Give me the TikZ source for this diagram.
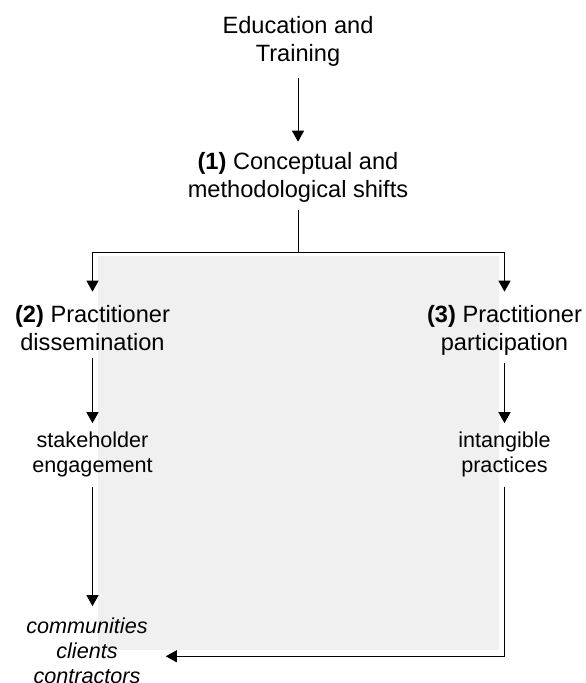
\documentclass[tikz,border=0pt]{standalone}
\usepackage{fontspec}
\setmainfont{Liberation Sans}
\usetikzlibrary{arrows.meta}
\begin{document}
\begin{tikzpicture}[x=1pt,y=-1pt,
  stage/.style={align=center,inner sep=0pt,font=\fontsize{23.6}{28}\selectfont},
  effect/.style={align=center,inner sep=0pt,font=\fontsize{21.6}{25}\selectfont},
  actors/.style={align=center,inner sep=0pt,font=\fontsize{21.6}{25}\selectfont\itshape},
  flow/.style={-{Triangle[width=12pt,length=11pt]},line width=1pt,shorten <=10pt,shorten >=10pt}]
\useasboundingbox (0,0) rectangle (586,683);
\fill[black!6] (97.5,256) rectangle (499,650);
% anchor=base sits on the last line of each label
\node[stage,anchor=base] (edu) at (298,61) {Education and\\Training};
\node[stage,anchor=base] (shifts) at (298,197) {\textbf{(1)} Conceptual and\\methodological shifts};
\node[stage,anchor=base] (dissem) at (92.5,350) {\textbf{(2)} Practitioner\\dissemination};
\node[stage,anchor=base] (partic) at (504.5,350) {\textbf{(3)} Practitioner\\participation};
\node[effect,anchor=base] (stake) at (92.5,472) {stakeholder\\engagement};
\node[effect,anchor=base] (intang) at (504.5,472) {intangible\\practices};
\node[actors,anchor=base] (actors) at (87,683) {communities\\clients\\contractors};
\coordinate (split) at (298,252);
\draw[flow,shorten <=12pt] (edu) -- (shifts);
\draw[line width=1pt,shorten <=8pt] (shifts) -- (split);
\draw[flow,shorten <=0pt,shorten >=13pt] (split) -| (dissem.north);
\draw[flow,shorten <=0pt,shorten >=13pt] (split) -| (partic.north);
\draw[flow,shorten <=8pt,shorten >=8pt] (dissem) -- (stake);
\draw[flow,shorten <=8pt,shorten >=8pt] (partic) -- (intang);
\draw[flow,shorten >=11pt] (stake) -- (stake |- actors.north);
\draw[flow,shorten >=18pt] (intang) |- ([yshift=-6pt]actors.east);
\end{tikzpicture}
\end{document}
